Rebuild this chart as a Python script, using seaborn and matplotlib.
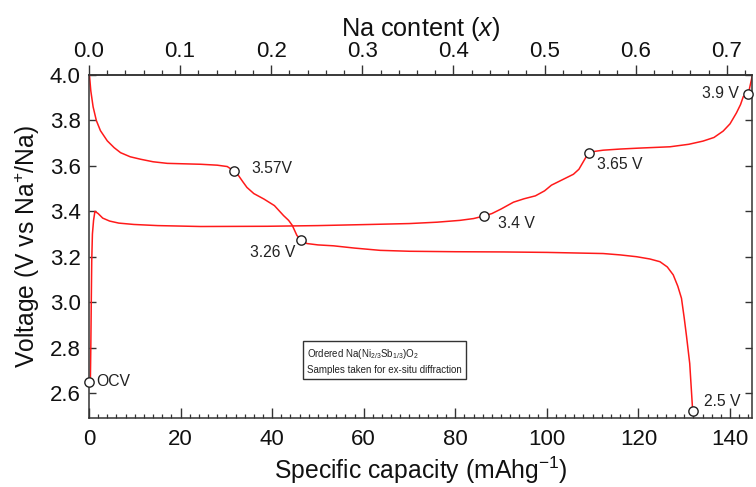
import matplotlib
matplotlib.use("Agg")
import matplotlib.pyplot as plt
import seaborn as sns
import pandas as pd
import numpy as np
from matplotlib.ticker import MultipleLocator, FixedLocator, FormatStrFormatter

# First charge (Na extraction) from OCV up to the 4.0 V cut-off
charge_cap = [0.3, 0.4, 0.5, 0.6, 0.75, 1.0, 1.3, 2.0, 3.0, 4.5, 6.5, 9.8, 15.0,
              24.4, 38.9, 50.0, 61.4, 70.0, 76.0, 81.0, 84.0, 86.2, 88.0, 90.0,
              92.7, 95.0, 97.5, 99.5, 101.0, 102.2, 104.0, 105.8, 107.0, 108.3,
              109.1, 110.5, 112.3, 116.0, 120.0, 126.9, 131.0, 134.1, 136.5,
              138.5, 140.0, 141.4, 142.3, 142.9, 144.0, 144.9]
charge_v = [2.65, 2.80, 3.00, 3.18, 3.30, 3.36, 3.40, 3.39, 3.37, 3.357, 3.348,
            3.342, 3.337, 3.333, 3.334, 3.337, 3.342, 3.346, 3.352, 3.360, 3.368,
            3.379, 3.39, 3.41, 3.44, 3.455, 3.468, 3.49, 3.515, 3.527, 3.545,
            3.563, 3.585, 3.63, 3.658, 3.664, 3.669, 3.674, 3.678, 3.684, 3.695,
            3.709, 3.725, 3.753, 3.785, 3.833, 3.87, 3.905, 3.917, 4.0]

# First discharge (Na re-insertion) down to 2.5 V
discharge_cap = [0.1, 0.4, 0.9, 1.6, 2.5, 4.0, 5.5, 6.9, 9.0, 11.3, 14.0, 17.1,
                 24.4, 28.0, 30.2, 31.6, 32.7, 33.6, 34.5, 36.0, 38.2, 40.5,
                 42.5, 43.6, 44.4, 45.4, 46.4, 47.6, 50.0, 53.4, 58.0, 63.6,
                 70.0, 80.0, 90.5, 100.0, 112.3, 116.0, 119.6, 122.5, 124.7,
                 126.3, 127.6, 128.6, 129.4, 130.0, 130.5, 131.2, 131.8, 132.0]
discharge_v = [4.0, 3.93, 3.86, 3.80, 3.755, 3.71, 3.68, 3.658, 3.64, 3.629,
               3.618, 3.611, 3.607, 3.603, 3.597, 3.578, 3.556, 3.53, 3.505,
               3.478, 3.454, 3.425, 3.381, 3.36, 3.338, 3.294, 3.272, 3.258,
               3.252, 3.248, 3.238, 3.228, 3.224, 3.222, 3.221, 3.219, 3.214,
               3.208, 3.2, 3.19, 3.178, 3.155, 3.12, 3.07, 3.017, 2.93, 2.85,
               2.73, 2.536, 2.52]

# Points where samples were taken for ex-situ diffraction
sample_cap = [0.1, 31.6, 46.4, 86.2, 109.1, 144.0, 132.0]
sample_v = [2.65, 3.578, 3.272, 3.379, 3.658, 3.917, 2.52]
sample_labels = ["OCV", "3.57V", "3.26 V", "3.4 V", "3.65 V", "3.9 V", "2.5 V"]

# Na content tick values on the top axis
na_ticks = [0.0, 0.1, 0.2, 0.3, 0.4, 0.5, 0.6, 0.7]

# Specific capacity equivalent to one Na per formula unit (mAh/g)
capacity_per_na = 199.0

# label placement: (dx, dy) in pixels, horizontal alignment
label_offsets = [(7, 0, "left"), (18, 2, "left"), (-6, -12, "right"),
                 (14, -7, "left"), (8, -12, "left"), (-9, 0, "right"),
                 (11, 10, "left")]

sns.set_theme(style="ticks")
plt.rcParams["font.family"] = ["Liberation Sans", "DejaVu Sans"]
plt.rcParams["mathtext.fontset"] = "custom"
plt.rcParams["mathtext.rm"] = "Liberation Sans"
plt.rcParams["mathtext.it"] = "Liberation Sans:italic"
plt.rcParams["axes.edgecolor"] = "#333333"
plt.rcParams["axes.linewidth"] = 1.1
plt.rcParams["xtick.color"] = "#333333"
plt.rcParams["ytick.color"] = "#333333"
plt.rcParams["xtick.labelcolor"] = "#111111"
plt.rcParams["ytick.labelcolor"] = "#111111"

fig, ax = plt.subplots(figsize=(7.56, 4.87), dpi=100)
fig.subplots_adjust(left=0.1177, right=0.9947, top=0.846, bottom=0.1417)

red = "#ff1a1a"
charge = pd.DataFrame({"cap": charge_cap, "v": charge_v})
discharge = pd.DataFrame({"cap": discharge_cap, "v": discharge_v})
sns.lineplot(data=charge, x="cap", y="v", sort=False, estimator=None,
             color=red, lw=1.1, ax=ax)
sns.lineplot(data=discharge, x="cap", y="v", sort=False, estimator=None,
             color=red, lw=1.1, ax=ax)

samples = pd.DataFrame({"cap": sample_cap, "v": sample_v})
sns.scatterplot(data=samples, x="cap", y="v", s=45, facecolor="white",
                edgecolor="#222222", linewidth=1.0, zorder=5, clip_on=False,
                ax=ax)

for c, v, lab, (dx, dy, ha) in zip(sample_cap, sample_v, sample_labels,
                                   label_offsets):
    ax.annotate(lab, (c, v), xytext=(dx, dy), textcoords="offset pixels",
                ha=ha, va="center", fontsize=11.3, color="#222222")

ax.set_xlim(0, 144.8)
ax.set_ylim(2.49, 4.0)

ax.xaxis.set_major_locator(MultipleLocator(20))
ax.xaxis.set_minor_locator(MultipleLocator(2))
ax.yaxis.set_major_locator(MultipleLocator(0.2))
ax.yaxis.set_major_formatter(FormatStrFormatter("%.1f"))
ax.tick_params(axis="x", which="major", direction="in", length=7, width=1.0,
               labelsize=16, pad=8, top=False)
ax.tick_params(axis="x", which="minor", direction="in", length=3.2, width=0.9,
               top=False)
ax.tick_params(axis="y", which="major", direction="in", length=5, width=1.0,
               labelsize=16, pad=6, left=True, right=True, labelright=False)

ax.set_xlabel("Specific capacity (mAhg$^{-1}$)", fontsize=17.8, labelpad=3,
              color="#111111")
ax.set_ylabel("Voltage (V vs Na$^{+}$/Na)", fontsize=17.7, color="#111111")
ax.yaxis.set_label_coords(-0.071, 0.5)

# Na content scale along the top
top = ax.secondary_xaxis("top", functions=(lambda c: c / capacity_per_na,
                                           lambda x: x * capacity_per_na))
top.xaxis.set_major_locator(FixedLocator(na_ticks))
top.xaxis.set_minor_locator(FixedLocator(np.arange(0.0, 0.7201, 0.02)))
top.xaxis.set_major_formatter(FormatStrFormatter("%.1f"))
top.tick_params(axis="x", which="major", direction="out", length=7, width=1.0,
                labelsize=16, pad=2)
top.tick_params(axis="x", which="minor", direction="out", length=3.5, width=0.9)
top.set_xlabel("Na content ($x$)", fontsize=18.2, labelpad=4, color="#111111")

ax.text(0.329, 0.207,
        "Ordered Na(Ni$_{2/3}$Sb$_{1/3}$)O$_2$\nSamples taken for ex-situ diffraction",
        transform=ax.transAxes, ha="left", va="top", fontsize=7.0,
        color="#222222", linespacing=1.55,
        bbox=dict(boxstyle="square,pad=0.4", facecolor="white",
                  edgecolor="#333333", linewidth=1.0))

fig.savefig("out.png", dpi=100)
